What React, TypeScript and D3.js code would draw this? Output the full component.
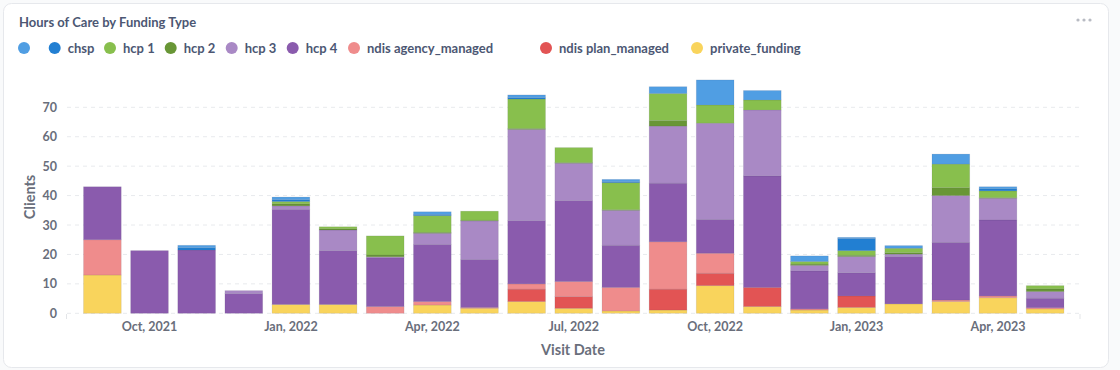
import React from "react";
import * as d3 from "d3";

const months = [
  "2021-09", "2021-10", "2021-11", "2021-12", "2022-01", "2022-02", "2022-03",
  "2022-04", "2022-05", "2022-06", "2022-07", "2022-08", "2022-09", "2022-10",
  "2022-11", "2022-12", "2023-01", "2023-02", "2023-03", "2023-04", "2023-05",
];

const seriesNames = [
  "", "chsp", "hcp 1", "hcp 2", "hcp 3", "hcp 4",
  "ndis agency_managed", "ndis plan_managed", "private_funding",
];

const seriesColors = [
  "#509EE3", "#227FD2", "#88BF4D", "#689636", "#A989C5", "#8A5BAD",
  "#EF8C8C", "#E25454", "#F9D45C",
];

const blankValues = [0, 0, 0.8, 0, 0.9, 0, 0, 0.9, 0, 0.9, 0, 0.8, 2.3, 8.5, 3.2, 1.9, 0.4, 0.9, 3.4, 0.7, 0];
const chspValues = [0, 0, 0.8, 0, 0.6, 0, 0, 0.4, 0, 0.5, 0, 0.3, 0, 0, 0, 0, 4.1, 0, 0, 0.7, 0];
const hcp1Values = [0, 0, 0, 0, 0.8, 0.7, 6.5, 5.7, 3.1, 10.0, 5.1, 9.2, 9.2, 6.2, 3.4, 0.9, 1.6, 1.5, 8.0, 2.3, 1.1];
const hcp2Values = [0, 0, 0, 0, 0.7, 0.4, 0.6, 0.3, 0.2, 0.3, 0.2, 0.2, 1.9, 0, 0, 0.4, 0.4, 0.5, 2.7, 0.2, 0.9];
const hcp3Values = [0, 0, 0, 1.0, 1.2, 7.0, 0.3, 3.8, 13.1, 31.0, 12.7, 11.9, 19.4, 32.7, 22.4, 1.9, 5.5, 0.8, 15.9, 7.4, 2.3];
const hcp4Values = [18, 21.3, 21.5, 6.7, 32.3, 18.3, 16.6, 19.4, 16.3, 21.5, 27.5, 14.3, 19.9, 11.5, 37.9, 12.9, 7.9, 16.1, 19.6, 25.8, 3.2];
const ndisAgencyValues = [12, 0, 0, 0, 0, 0, 2.3, 1.2, 0.3, 1.8, 5.1, 8.0, 16.1, 6.8, 0, 0.4, 0, 0, 0.5, 0.6, 0.4];
const ndisPlanValues = [0, 0, 0, 0, 0, 0, 0, 0, 0, 4.2, 4.0, 0, 7.1, 4.2, 6.5, 0, 3.9, 0, 0, 0, 0];
const privateValues = [13, 0, 0, 0, 3.0, 3.0, 0, 2.8, 1.7, 4.0, 1.7, 0.8, 1.1, 9.4, 2.3, 1.1, 2.0, 3.2, 4.0, 5.3, 1.5];

const yTicks = [0, 10, 20, 30, 40, 50, 60, 70];
const xTickMonths = ["2021-10", "2022-01", "2022-04", "2022-07", "2022-10", "2023-01", "2023-04"];
const xTickLabels = ["Oct, 2021", "Jan, 2022", "Apr, 2022", "Jul, 2022", "Oct, 2022", "Jan, 2023", "Apr, 2023"];

const legendX = [24, 54.7, 110, 170.7, 231.7, 292.7, 354, 546, 697];

const FONT = "Lato, 'Noto Sans', sans-serif";

export default function App() {
  const allValues = [
    blankValues, chspValues, hcp1Values, hcp2Values, hcp3Values, hcp4Values,
    ndisAgencyValues, ndisPlanValues, privateValues,
  ];
  const rows = months.map((m, i) => {
    const r: any = { month: m };
    seriesNames.forEach((s, k) => (r[s] = allValues[k][i]));
    return r;
  });
  // bottom of the stack is the last series
  const stackKeys = seriesNames.slice().reverse();
  const stacked = d3.stack<any>().keys(stackKeys)(rows);

  const x = d3.scaleBand<string>().domain(months).range([67.5, 1080]).paddingInner(0.2).paddingOuter(0.34);
  const y = d3.scaleLinear().domain([0, 70]).range([313.3, 107.3]);
  const colorOf = d3.scaleOrdinal<string, string>().domain(seriesNames).range(seriesColors);

  return (
    <svg width={1120} height={370} style={{ position: "absolute", left: 0, top: 0, fontFamily: FONT }}>
      <rect x={0} y={0} width={1120} height={370} fill="#F9FAFB" />
      <rect x={3.5} y={3.5} width={1105} height={364} rx={8} fill="#FFFFFF" stroke="#E6E8EC" />
      <text x={19} y={27} fontSize={13} fontWeight={700} fill="#4C5773">Hours of Care by Funding Type</text>
      {[1078, 1084, 1090].map((cx) => (
        <circle key={cx} cx={cx} cy={20} r={1.6} fill="#B8BBC3" />
      ))}
      {seriesNames.map((s, k) => (
        <g key={"lg" + k}>
          <circle cx={legendX[k]} cy={48} r={6} fill={seriesColors[k]} />
          <text x={legendX[k] + 13} y={52.5} fontSize={13} fontWeight={700} fill="#4C5773">{s}</text>
        </g>
      ))}
      {yTicks.map((t) => (
        <g key={"gy" + t}>
          <line x1={67} x2={1080} y1={y(t)} y2={y(t)} stroke="#E8EAED" strokeDasharray="4,4" />
          <text x={57} y={y(t) + 4.5} textAnchor="end" fontSize={12.5} fontWeight={700} fill="#696E7B">{t}</text>
        </g>
      ))}
      <line x1={66.5} x2={66.5} y1={314} y2={319} stroke="#E3E5E8" />
      <line x1={1080} x2={1080} y1={314} y2={319} stroke="#E3E5E8" />
      {stacked.map((layer) => (
        <g key={layer.key} fill={colorOf(layer.key)}>
          {layer.map((d, i) =>
            d[1] - d[0] > 0 ? (
              <rect
                key={i}
                x={x(months[i])}
                width={x.bandwidth()}
                y={y(d[1])}
                height={y(d[0]) - y(d[1])}
                stroke="rgba(60,60,80,0.12)"
                strokeWidth={0.8}
              />
            ) : null
          )}
        </g>
      ))}
      {xTickMonths.map((m, i) => (
        <text key={m} x={(x(m) as number) + x.bandwidth() / 2} y={331} textAnchor="middle" fontSize={12.5} fontWeight={700} fill="#696E7B">
          {xTickLabels[i]}
        </text>
      ))}
      <text x={573} y={355} textAnchor="middle" fontSize={14.5} fontWeight={700} fill="#696E7B">Visit Date</text>
      <text transform="translate(35,197) rotate(-90)" textAnchor="middle" fontSize={14.5} fontWeight={700} fill="#696E7B">Clients</text>
    </svg>
  );
}
